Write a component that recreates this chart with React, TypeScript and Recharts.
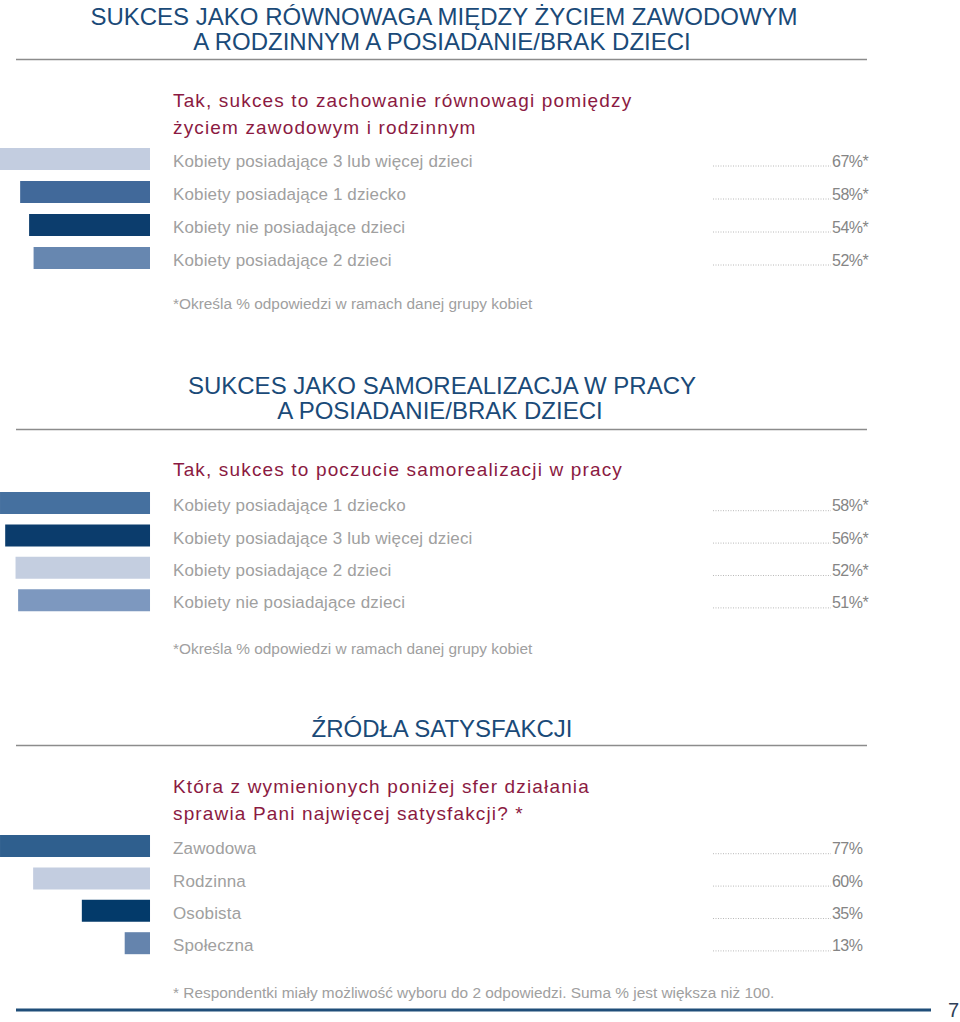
import React from 'react';
import { BarChart, Bar, XAxis, YAxis, Cell } from 'recharts';

const FONT = '"Liberation Sans", Arial, Helvetica, sans-serif';

// ---- Section 1: work/life balance ----
const s1Categories = [
  'Kobiety posiadające 3 lub więcej dzieci',
  'Kobiety posiadające 1 dziecko',
  'Kobiety nie posiadające dzieci',
  'Kobiety posiadające 2 dzieci',
];
const s1Values = [67, 58, 54, 52];
const s1Colors = ['#c3cde0', '#41699a', '#0c3d6d', '#6787b0'];

// ---- Section 2: self-realisation at work ----
const s2Categories = [
  'Kobiety posiadające 1 dziecko',
  'Kobiety posiadające 3 lub więcej dzieci',
  'Kobiety posiadające 2 dzieci',
  'Kobiety nie posiadające dzieci',
];
const s2Values = [58, 56, 52, 51];
const s2Colors = ['#45709f', '#0b3c6c', '#c4cee0', '#7d98bf'];

// ---- Section 3: sources of satisfaction ----
const s3Categories = ['Zawodowa', 'Rodzinna', 'Osobista', 'Społeczna'];
const s3Values = [77, 60, 35, 13];
const s3Colors = ['#2f5f8e', '#c3cde0', '#033a6a', '#6584ad'];

const TITLE_COLOR = '#1a4a78';
const SUB_COLOR = '#8b1a42';

type SectionProps = {
  top: number;
  categories: string[];
  values: number[];
  colors: string[];
  suffix: string;
  rowH: number;
};

function Section({ top, categories, values, colors, suffix, rowH }: SectionProps) {
  const data = categories.map((name, i) => ({ name, value: values[i] }));
  const max = Math.max(...values);
  const height = rowH * categories.length;
  const renderTick = (props: any) => {
    const { y, payload } = props;
    const i = categories.indexOf(payload.value);
    return (
      <g>
        <text x={173} y={y + 8} fontFamily={FONT} fontSize={17} letterSpacing={0.15} fill="#a0a0a0">
          {payload.value}
        </text>
        <line x1={713} x2={831} y1={y + 7.5} y2={y + 7.5} stroke="#b8b8b8" strokeWidth={1} strokeDasharray="1 1.5" />
        <text x={832} y={y + 8} fontFamily={FONT} fontSize={16} letterSpacing={-0.5} fill="#858585">
          {values[i]}
          {suffix}
        </text>
      </g>
    );
  };
  return (
    <div style={{ position: 'absolute', left: 0, top }}>
      <BarChart
        width={880}
        height={height}
        data={data}
        layout="vertical"
        margin={{ top: 0, right: 0, bottom: 0, left: 0 }}
      >
        <XAxis type="number" domain={[0, max]} reversed hide />
        <YAxis
          type="category"
          dataKey="name"
          orientation="right"
          width={730}
          axisLine={false}
          tickLine={false}
          interval={0}
          tick={renderTick}
        />
        <Bar dataKey="value" barSize={22} isAnimationActive={false}>
          {data.map((d, i) => (
            <Cell key={d.name} fill={colors[i]} />
          ))}
        </Bar>
      </BarChart>
    </div>
  );
}

const titleProps = {
  fontFamily: FONT,
  fontSize: 24,
  fill: TITLE_COLOR,
  textAnchor: 'middle' as const,
};
const subProps = {
  fontFamily: FONT,
  fontSize: 19,
  letterSpacing: 1.15,
  fill: SUB_COLOR,
};
const noteProps = {
  fontFamily: FONT,
  fontSize: 15.4,
  fill: '#a0a0a0',
};

export default function App() {
  return (
    <div
      style={{
        position: 'absolute',
        left: 0,
        top: 0,
        width: 960,
        height: 1022,
        background: '#ffffff',
        overflow: 'hidden',
      }}
    >
      <svg width={960} height={1022} style={{ position: 'absolute', left: 0, top: 0 }}>
        {/* Section 1 */}
        <text x={444} y={24.5} {...titleProps}>SUKCES JAKO RÓWNOWAGA MIĘDZY ŻYCIEM ZAWODOWYM</text>
        <text x={442} y={49.5} {...titleProps}>A RODZINNYM A POSIADANIE/BRAK DZIECI</text>
        <line x1={16} x2={867} y1={59.5} y2={59.5} stroke="#8c8c8c" strokeWidth={1.5} />
        <text x={173} y={106.5} {...subProps}>Tak, sukces to zachowanie równowagi pomiędzy</text>
        <text x={173} y={133.5} {...subProps}>życiem zawodowym i rodzinnym</text>
        <text x={173} y={308.5} {...noteProps}>*Określa % odpowiedzi w ramach danej grupy kobiet</text>

        {/* Section 2 */}
        <text x={442} y={393.5} {...titleProps}>SUKCES JAKO SAMOREALIZACJA W PRACY</text>
        <text x={440} y={418.5} {...titleProps}>A POSIADANIE/BRAK DZIECI</text>
        <line x1={16} x2={867} y1={429.5} y2={429.5} stroke="#8c8c8c" strokeWidth={1.5} />
        <text x={173} y={475.5} {...subProps}>Tak, sukces to poczucie samorealizacji w pracy</text>
        <text x={173} y={653.5} {...noteProps}>*Określa % odpowiedzi w ramach danej grupy kobiet</text>

        {/* Section 3 */}
        <text x={442} y={737} {...titleProps}>ŹRÓDŁA SATYSFAKCJI</text>
        <line x1={16} x2={867} y1={745.5} y2={745.5} stroke="#8c8c8c" strokeWidth={1.5} />
        <text x={173} y={792.5} {...subProps}>Która z wymienionych poniżej sfer działania</text>
        <text x={173} y={819.5} {...subProps}>sprawia Pani najwięcej satysfakcji? *</text>
        <text x={173} y={997.5} {...noteProps}>
          * Respondentki miały możliwość wyboru do 2 odpowiedzi. Suma % jest większa niż 100.
        </text>

        {/* Footer */}
        <line x1={16} x2={931} y1={1010} y2={1010} stroke="#1f4e79" strokeWidth={3} />
        <text x={948} y={1017} fontFamily={FONT} fontSize={20} fill="#2f4058">7</text>
      </svg>

      <Section top={142} categories={s1Categories} values={s1Values} colors={s1Colors} suffix="%*" rowH={33} />
      <Section top={487} categories={s2Categories} values={s2Values} colors={s2Colors} suffix="%*" rowH={32.4} />
      <Section top={830} categories={s3Categories} values={s3Values} colors={s3Colors} suffix="%" rowH={32.4} />
    </div>
  );
}
